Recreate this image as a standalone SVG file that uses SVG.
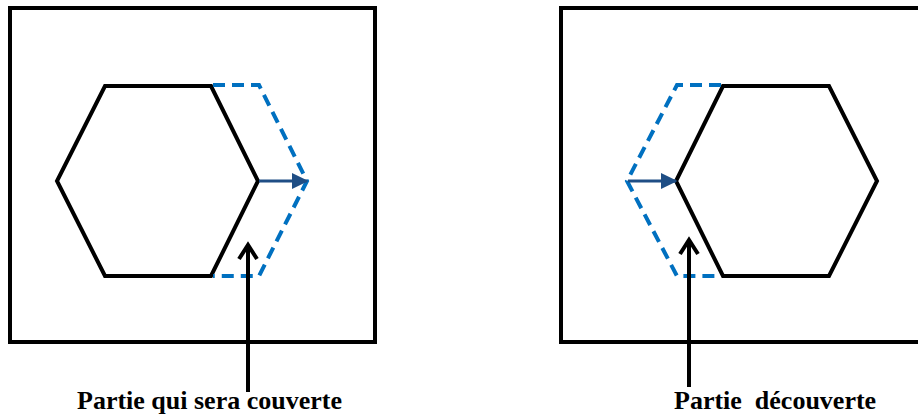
<svg xmlns="http://www.w3.org/2000/svg" width="918" height="418" viewBox="0 0 918 418">
<style>
.frame{fill:none;stroke:#000;stroke-width:4;stroke-linejoin:miter}
.hex{fill:none;stroke:#000;stroke-width:4;stroke-linejoin:miter}
.dash{fill:none;stroke:#0070C0;stroke-width:4;stroke-dasharray:12,7}
.move{stroke:#1F4E85;stroke-width:3;fill:none}
.ptr{stroke:#000;stroke-width:4;fill:none}
.lbl{font-family:"Liberation Serif","Times New Roman",serif;font-weight:bold;font-size:26px;fill:#000;white-space:pre}
</style>
<defs>
<marker id="blueHead" markerWidth="6" markerHeight="6" refX="5" refY="3" orient="auto" markerUnits="strokeWidth">
<path d="M0,0.3 L5.5,3 L0,5.7 Z" fill="#1F4E85"/>
</marker>
</defs>
<g id="panel-left">
<rect class="frame" x="10" y="8" width="365" height="334"/>
<polygon class="hex" points="105,86 211,86 258,181 211,276 105,276 57,181"/>
<polyline class="dash" points="213,85 259,85 307,181 259,276 213,276"/>
</g>
<g id="panel-right">
<rect class="frame" x="561" y="8" width="370" height="334"/>
<polygon class="hex" points="723,86 829,86 877,181 829,276 723,276 676,181"/>
<polyline class="dash" points="721,85 677,85 627,181 677,276 721,276"/>
</g>
<g id="connectors">
<line class="move" x1="259" y1="181" x2="307" y2="181" marker-end="url(#blueHead)"/>
<line class="move" x1="628" y1="181" x2="676" y2="181" marker-end="url(#blueHead)"/>
<line class="ptr" x1="248" y1="392" x2="248" y2="245"/>
<polyline class="ptr" points="239,259 248,245 257,259"/>
<line class="ptr" x1="689" y1="387" x2="689" y2="240"/>
<polyline class="ptr" points="680,254 689,240 698,254"/>
</g>
<g id="labels">
<text class="lbl" x="77" y="409">Partie qui sera couverte</text>
<text class="lbl" x="674" y="409" xml:space="preserve">Partie  découverte</text>
</g>
</svg>
